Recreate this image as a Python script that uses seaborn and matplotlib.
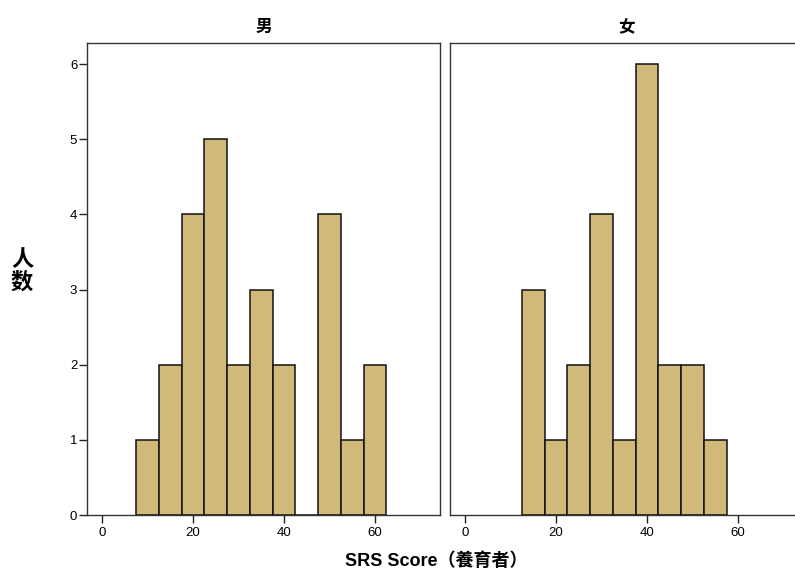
import numpy as np
import pandas as pd
import matplotlib
matplotlib.use("Agg")
import matplotlib.pyplot as plt
import seaborn as sns

sns.set_theme(style="white")
plt.rcParams['font.family'] = ['Liberation Sans', 'Noto Sans CJK SC']
plt.rcParams['text.color'] = 'black'
plt.rcParams['xtick.color'] = 'black'
plt.rcParams['ytick.color'] = 'black'

# SRS score histograms (bin width 5), one panel per sex
panels = ["男", "女"]
male_centers = [10, 15, 20, 25, 30, 35, 40, 45, 50, 55, 60]
male_counts = [1, 2, 4, 5, 2, 3, 2, 0, 4, 1, 2]
female_centers = [15, 20, 25, 30, 35, 40, 45, 50, 55]
female_counts = [3, 1, 2, 4, 1, 6, 2, 2, 1]
x_ticks = [0, 20, 40, 60]
y_ticks = [0, 1, 2, 3, 4, 5, 6]
x_label = "SRS Score（養育者）"
y_label = "人数"

bin_width = 5
bar_color = "#d1b97a"

df = pd.concat([
    pd.DataFrame({"sex": panels[0], "score": male_centers, "n": male_counts}),
    pd.DataFrame({"sex": panels[1], "score": female_centers, "n": female_counts}),
], ignore_index=True)

fig = plt.figure(figsize=(7.95, 5.72), dpi=100)
W, H = 795, 572
ax_w, ax_h = 353 / W, 472 / H
bottom = 1 - 515 / H
axes = [fig.add_axes([87 / W, bottom, ax_w, ax_h]),
        fig.add_axes([450 / W, bottom, ax_w, ax_h])]

for ax, sex in zip(axes, panels):
    sub = df[df["sex"] == sex]
    lo = float(sub["score"].min()) - bin_width / 2
    hi = float(sub["score"].max()) + bin_width / 2
    sns.histplot(data=sub, x="score", weights="n", binwidth=bin_width,
                 binrange=(lo, hi), ax=ax,
                 color=bar_color, edgecolor="#111111", linewidth=1.1, alpha=1)
    ax.set_xlim(-3.3, 74.3)
    ax.set_ylim(0, 6.28)
    ax.set_xticks(x_ticks)
    ax.set_yticks(y_ticks)
    ax.set_xlabel("")
    ax.set_ylabel("")
    ax.set_title(sex, fontsize=12, fontweight="bold", pad=8, color="black")
    ax.tick_params(axis="both", direction="out", length=6, width=1,
                   color="#222222", labelsize=9.5, labelcolor="black",
                   bottom=True, left=True)
    ax.tick_params(axis="x", pad=3)
    ax.tick_params(axis="y", pad=1)
    for s in ax.spines.values():
        s.set_color("#333333")
        s.set_linewidth(1)
    ax.set_facecolor("white")

axes[1].tick_params(axis="y", left=False, labelleft=False)

fig.text(436 / W, 1 - 561 / H, x_label, ha="center", va="center",
         fontsize=13, fontweight="bold", color="black")
fig.text(22 / W, 1 - 272 / H, "\n".join(y_label), ha="center", va="center",
         fontsize=16, fontweight="bold", linespacing=1.05, color="black")

fig.savefig("out.png", dpi=100)
